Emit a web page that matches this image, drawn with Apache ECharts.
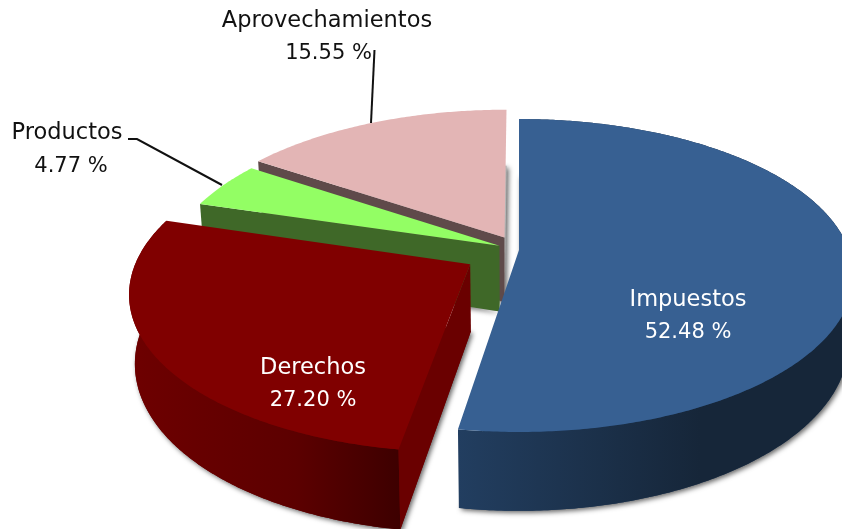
<!DOCTYPE html>
<html>
<head>
<meta charset="utf-8">
<script src="https://cdn.jsdelivr.net/npm/echarts@6/dist/echarts.min.js"></script>
<style>
html,body{margin:0;padding:0;background:#fff}
#chart{width:842px;height:529px}
</style>
</head>
<body>
<div id="chart"></div>
<script>
var categories = ['Impuestos', 'Derechos', 'Productos', 'Aprovechamientos'];
var shares = [52.48, 27.20, 4.77, 15.55];

// how far each slice is pulled out of the pie
var explode = [0, 0.172, 0.066, 0.095];
var topColors = ['#376092', '#800000', '#93fe64', '#e3b5b5'];
var radialColors = ['#1f3a5c', '#6a0000', '#3f6828', '#5f4a4a'];
var baseColors = ['#1f3a5c', '#6a0000', '#b5b5b5', '#b5b5b5'];
var sideStops = [
  [[0, '#223e60'], [1, '#162639']],
  [[0, '#6e0000'], [0.6, '#5c0000'], [1, '#3c0000']]
];
var sideSpan = [[458, 700], [130, 405]];
var labelPos = [[688, 300, 688, 333], [313, 368, 313, 401], [67, 133, 71, 167], [327, 21, 328.5, 54]];
var labelColors = ['#fff', '#fff', '#111', '#111'];

// pie plane projected with a little perspective
var cx = 519, cy = 250, rx = 330, ry = 152.3, persp = 0.163;
var depth = 66, shrink = 0.985;

function project(px, py) {
  var s = 1 / (1 + persp * py);
  return [cx + rx * px * s, cy - ry * py * s, s];
}
function lower(p) {
  return [cx + (p[0] - cx) * shrink, p[1] + depth * p[2]];
}
function xy(p) {
  return [p[0], p[1]];
}

function labelText(i, x, y, text, size) {
  return {
    type: 'text', z2: 100,
    style: {
      text: text, x: x, y: y,
      fill: labelColors[i], fontFamily: 'DejaVu Sans', fontSize: size,
      align: 'center', verticalAlign: 'middle'
    }
  };
}

function renderSlice(params, api) {
  var i = params.dataIndex;
  var total = 0, before = 0;
  for (var k = 0; k < shares.length; k++) {
    total += shares[k];
    if (k < i) before += shares[k];
  }
  var a0 = before / total * Math.PI * 2;
  var a1 = (before + api.value(0)) / total * Math.PI * 2;
  var mid = (a0 + a1) / 2;
  var ox = Math.sin(mid) * explode[i], oy = Math.cos(mid) * explode[i];

  var apex = project(ox, oy);
  var arc = [];
  var steps = Math.ceil((a1 - a0) / 0.01);
  for (var n = 0; n <= steps; n++) {
    var t = a0 + (a1 - a0) * n / steps;
    arc.push(project(ox + Math.sin(t), oy + Math.cos(t)));
  }
  var arcLow = arc.map(lower);
  var apexLow = lower(apex);

  // later slices sit behind earlier ones
  var z = (shares.length - i) * 10;

  var children = [{
    type: 'polygon', z2: z,
    shape: {points: [xy(apexLow)].concat(arcLow)},
    style: {fill: baseColors[i], shadowBlur: 5, shadowOffsetX: 2, shadowOffsetY: 2, shadowColor: 'rgba(0,0,0,0.6)'}
  }];

  // the outer wall only shows on slices that reach the front half
  if (sideStops[i]) {
    children.push({
      type: 'polygon', z2: z + 1,
      shape: {points: arc.map(xy).concat(arcLow.slice().reverse())},
      style: {
        fill: new echarts.graphic.LinearGradient(sideSpan[i][0], 0, sideSpan[i][1], 0, sideStops[i].map(function (s) {
          return {offset: s[0], color: s[1]};
        }), true)
      }
    });
  }
  children.push({
    type: 'polygon', z2: z + 2,
    shape: {points: [xy(apex), apexLow, arcLow[0], xy(arc[0])]},
    style: {fill: radialColors[i]}
  });
  children.push({
    type: 'polygon', z2: z + 3,
    shape: {points: [xy(apex)].concat(arc.map(xy))},
    style: {fill: topColors[i]}
  });
  children.push(labelText(i, labelPos[i][0], labelPos[i][1], categories[i], 22.5));
  children.push(labelText(i, labelPos[i][2], labelPos[i][3], api.value(0).toFixed(2) + ' %', 21));
  return {type: 'group', children: children};
}

var myChart = echarts.init(document.getElementById('chart'));
var option = {
  backgroundColor: '#fff',
  animation: false,
  series: [{
    type: 'custom',
    coordinateSystem: 'none',
    silent: true,
    renderItem: renderSlice,
    data: shares.map(function (v) { return [v]; })
  }],
  graphic: [
    {type: 'polyline', z: 5, shape: {points: [[374.5, 50], [371, 123]]}, style: {stroke: '#111', lineWidth: 2, fill: null}},
    {type: 'polyline', z: 5, shape: {points: [[128, 139], [137, 139], [222, 185]]}, style: {stroke: '#111', lineWidth: 2, fill: null}}
  ]
};
myChart.setOption(option);
</script>
</body>
</html>
